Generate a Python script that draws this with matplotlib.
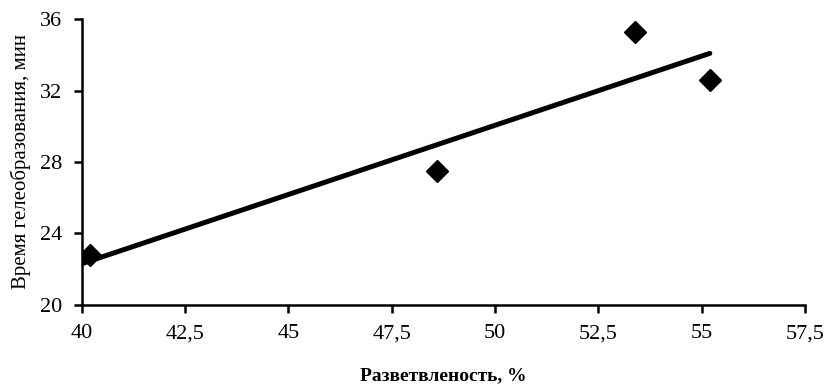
import numpy as np
import matplotlib.pyplot as plt

plt.rcParams['font.family'] = ['Liberation Serif', 'DejaVu Serif']

# разветвленность, % и время гелеобразования, мин
branching = [40.2, 48.6, 53.4, 55.2]
gel_time = [22.8, 27.5, 35.3, 32.6]

x_ticks = [40, 42.5, 45, 47.5, 50, 52.5, 55, 57.5]
y_ticks = [20, 24, 28, 32, 36]

fig = plt.figure(figsize=(8.28, 3.88), dpi=100)
ax = fig.add_axes([0.099, 0.214, 0.873, 0.737])

ax.plot(branching, gel_time, 'D', color='black', markersize=11, zorder=2)

# линейный тренд
k, b = np.polyfit(branching, gel_time, 1)
xs = np.array([40, max(branching)])
ax.plot(xs, k * xs + b, color='black', linewidth=3.6, solid_capstyle='round', zorder=3)

ax.set_xlim(40, 57.5)
ax.set_ylim(20, 36)
ax.set_xticks(x_ticks)
ax.set_yticks(y_ticks)
ax.set_xticklabels([str(t).replace('.', ',') for t in x_ticks])
ax.set_yticklabels([str(t) for t in y_ticks])

for side in ['top', 'right']:
    ax.spines[side].set_visible(False)
for side in ['left', 'bottom']:
    ax.spines[side].set_linewidth(1.8)
ax.tick_params(direction='out', length=6, width=1.8, labelsize=16, pad=8)

ax.set_xlabel('Разветвленость, %', fontsize=14, fontweight='bold', labelpad=17)
ax.set_ylabel('Время гелеобразования, мин', fontsize=15, labelpad=7)

fig.savefig('out.png', dpi=100)
